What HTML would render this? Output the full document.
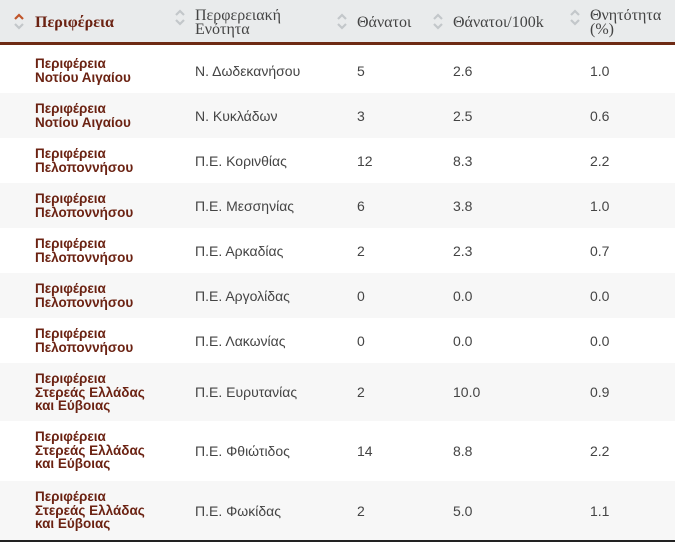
<!DOCTYPE html>
<html><head><meta charset="utf-8"><style>
*{margin:0;padding:0;box-sizing:border-box}
body{width:675px;height:543px;background:#fff;position:relative;overflow:hidden;font-family:"Liberation Sans",sans-serif;}
.hd{position:absolute;left:0;top:0;width:675px;height:45px;background:#e9ebec;border-bottom:3px solid #6e2a14;}
.h{position:absolute;font-family:"Liberation Serif",serif;font-size:16px;color:#444;line-height:14px;}
.ic{position:absolute;width:12px;height:22px;}
.row{position:absolute;left:0;width:675px}
.g{background:#f7f7f7}
.c{position:absolute;font-size:14px;color:#444;}
.n{position:absolute;left:35px;font-size:13.5px;font-weight:bold;color:#6b2212;line-height:13.5px;}
.bot{position:absolute;left:0;top:540px;width:675px;height:2px;background:#222}
</style></head><body>
<div class="hd"></div>
<svg class="ic" style="left:13px;top:10px" viewBox="0 0 12 22"><path d="M2 9 L6 5 L10 9" stroke="#c0552a" stroke-width="2.2" fill="none"/><path d="M2 14 L6 18 L10 14" stroke="#c3c7ca" stroke-width="2.2" fill="none"/></svg>
<svg class="ic" style="left:174px;top:6px" viewBox="0 0 12 22"><path d="M2 9 L6 5 L10 9" stroke="#c3c7ca" stroke-width="2.2" fill="none"/><path d="M2 14 L6 18 L10 14" stroke="#c3c7ca" stroke-width="2.2" fill="none"/></svg>
<svg class="ic" style="left:336px;top:10px" viewBox="0 0 12 22"><path d="M2 9 L6 5 L10 9" stroke="#c3c7ca" stroke-width="2.2" fill="none"/><path d="M2 14 L6 18 L10 14" stroke="#c3c7ca" stroke-width="2.2" fill="none"/></svg>
<svg class="ic" style="left:432px;top:10px" viewBox="0 0 12 22"><path d="M2 9 L6 5 L10 9" stroke="#c3c7ca" stroke-width="2.2" fill="none"/><path d="M2 14 L6 18 L10 14" stroke="#c3c7ca" stroke-width="2.2" fill="none"/></svg>
<svg class="ic" style="left:569px;top:6px" viewBox="0 0 12 22"><path d="M2 9 L6 5 L10 9" stroke="#c3c7ca" stroke-width="2.2" fill="none"/><path d="M2 14 L6 18 L10 14" stroke="#c3c7ca" stroke-width="2.2" fill="none"/></svg>
<div class="h" style="left:35px;top:16px;font-weight:bold;color:#6b2212">Περιφέρεια</div>
<div class="h" style="left:195px;top:9px">Περφερειακή<br>Ενότητα</div>
<div class="h" style="left:357px;top:16px">Θάνατοι</div>
<div class="h" style="left:453px;top:16px">Θάνατοι/100k</div>
<div class="h" style="left:590px;top:9px">Θνητότητα<br>(%)</div>

<div class="row" style="top:48px;height:45px"><div class="n" style="top:9px">Περιφέρεια<br>Νοτίου Αιγαίου</div><div class="c" style="left:195px;top:15px">Ν. Δωδεκανήσου</div><div class="c" style="left:357px;top:15px">5</div><div class="c" style="left:453px;top:15px">2.6</div><div class="c" style="left:590px;top:15px">1.0</div></div>
<div class="row g" style="top:93px;height:45px"><div class="n" style="top:9px">Περιφέρεια<br>Νοτίου Αιγαίου</div><div class="c" style="left:195px;top:15px">Ν. Κυκλάδων</div><div class="c" style="left:357px;top:15px">3</div><div class="c" style="left:453px;top:15px">2.5</div><div class="c" style="left:590px;top:15px">0.6</div></div>
<div class="row" style="top:138px;height:45px"><div class="n" style="top:9px">Περιφέρεια<br>Πελοποννήσου</div><div class="c" style="left:195px;top:15px">Π.Ε. Κορινθίας</div><div class="c" style="left:357px;top:15px">12</div><div class="c" style="left:453px;top:15px">8.3</div><div class="c" style="left:590px;top:15px">2.2</div></div>
<div class="row g" style="top:183px;height:45px"><div class="n" style="top:9px">Περιφέρεια<br>Πελοποννήσου</div><div class="c" style="left:195px;top:15px">Π.Ε. Μεσσηνίας</div><div class="c" style="left:357px;top:15px">6</div><div class="c" style="left:453px;top:15px">3.8</div><div class="c" style="left:590px;top:15px">1.0</div></div>
<div class="row" style="top:228px;height:45px"><div class="n" style="top:9px">Περιφέρεια<br>Πελοποννήσου</div><div class="c" style="left:195px;top:15px">Π.Ε. Αρκαδίας</div><div class="c" style="left:357px;top:15px">2</div><div class="c" style="left:453px;top:15px">2.3</div><div class="c" style="left:590px;top:15px">0.7</div></div>
<div class="row g" style="top:273px;height:45px"><div class="n" style="top:9px">Περιφέρεια<br>Πελοποννήσου</div><div class="c" style="left:195px;top:15px">Π.Ε. Αργολίδας</div><div class="c" style="left:357px;top:15px">0</div><div class="c" style="left:453px;top:15px">0.0</div><div class="c" style="left:590px;top:15px">0.0</div></div>
<div class="row" style="top:318px;height:45px"><div class="n" style="top:9px">Περιφέρεια<br>Πελοποννήσου</div><div class="c" style="left:195px;top:15px">Π.Ε. Λακωνίας</div><div class="c" style="left:357px;top:15px">0</div><div class="c" style="left:453px;top:15px">0.0</div><div class="c" style="left:590px;top:15px">0.0</div></div>
<div class="row g" style="top:363px;height:58px"><div class="n" style="top:9px">Περιφέρεια<br>Στερεάς Ελλάδας<br>και Εύβοιας</div><div class="c" style="left:195px;top:21px">Π.Ε. Ευρυτανίας</div><div class="c" style="left:357px;top:21px">2</div><div class="c" style="left:453px;top:21px">10.0</div><div class="c" style="left:590px;top:21px">0.9</div></div>
<div class="row" style="top:421px;height:60px"><div class="n" style="top:9px">Περιφέρεια<br>Στερεάς Ελλάδας<br>και Εύβοιας</div><div class="c" style="left:195px;top:22px">Π.Ε. Φθιώτιδος</div><div class="c" style="left:357px;top:22px">14</div><div class="c" style="left:453px;top:22px">8.8</div><div class="c" style="left:590px;top:22px">2.2</div></div>
<div class="row g" style="top:481px;height:59px"><div class="n" style="top:9px">Περιφέρεια<br>Στερεάς Ελλάδας<br>και Εύβοιας</div><div class="c" style="left:195px;top:22px">Π.Ε. Φωκίδας</div><div class="c" style="left:357px;top:22px">2</div><div class="c" style="left:453px;top:22px">5.0</div><div class="c" style="left:590px;top:22px">1.1</div></div>
<div class="bot"></div>
</body></html>
